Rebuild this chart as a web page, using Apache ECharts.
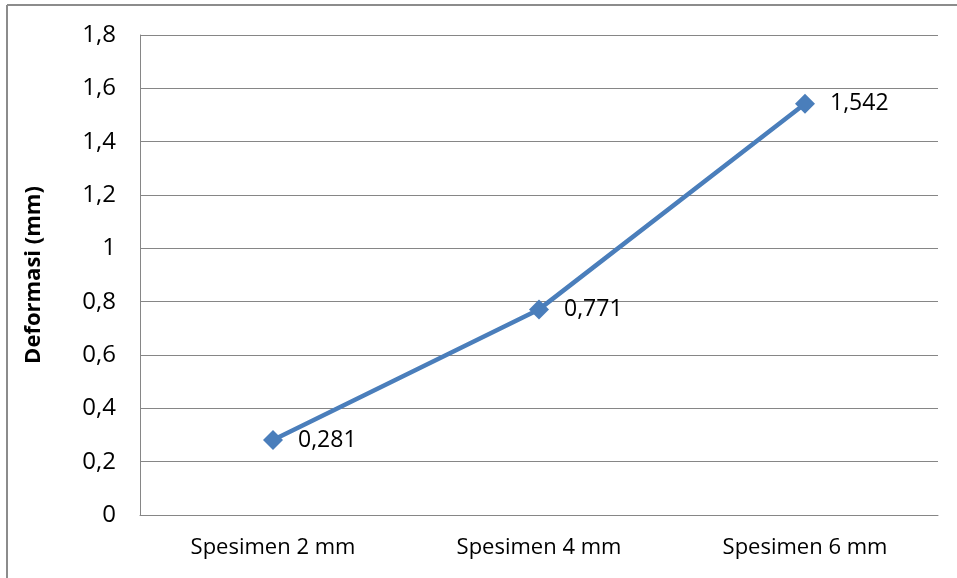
<!DOCTYPE html>
<html>
<head>
<meta charset="utf-8">
<script src="https://cdn.jsdelivr.net/npm/echarts@6/dist/echarts.min.js"></script>
<style>
  html, body { margin: 0; padding: 0; background: #fff; }
  #chart { width: 957px; height: 578px; }
</style>
</head>
<body>
<div id="chart"></div>
<script>
// Specimen thickness categories and measured deformation (mm)
const categories = ['Spesimen 2 mm', 'Spesimen 4 mm', 'Spesimen 6 mm'];
const deformasi = [0.281, 0.771, 1.542];
const yTicks = { min: 0, max: 1.8, interval: 0.2 };

const fontFamily = '"Open Sans", "Noto Sans", sans-serif';
const fmt = v => String(v).replace('.', ',');

const chart = echarts.init(document.getElementById('chart'), null, { renderer: 'canvas' });
chart.setOption({
  animation: false,
  backgroundColor: '#ffffff',
  graphic: [
    { type: 'line', shape: { x1: 7, y1: 5, x2: 957, y2: 5 }, style: { stroke: '#8c8c8c', lineWidth: 2 } },
    { type: 'line', shape: { x1: 7, y1: 5, x2: 7, y2: 578 }, style: { stroke: '#8c8c8c', lineWidth: 2 } }
  ],
  grid: { left: 140, right: 19, top: 35, bottom: 63, containLabel: false },
  xAxis: {
    type: 'category',
    data: categories,
    boundaryGap: true,
    axisLine: { show: true, lineStyle: { color: '#868686', width: 1 } },
    axisTick: { show: false },
    axisLabel: { color: '#000', fontFamily, fontSize: 22, margin: 22 }
  },
  yAxis: {
    type: 'value',
    min: yTicks.min,
    max: yTicks.max,
    interval: yTicks.interval,
    name: 'Deformasi (mm)',
    nameLocation: 'middle',
    nameGap: 95,
    nameTextStyle: { color: '#000', fontFamily, fontSize: 22, fontWeight: 'bold' },
    axisLine: { show: true, lineStyle: { color: '#868686', width: 1 } },
    axisTick: { show: false },
    splitLine: { show: true, lineStyle: { color: '#868686', width: 1 } },
    axisLabel: {
      color: '#000', fontFamily, fontSize: 24, margin: 24,
      formatter: v => fmt(Math.round(v * 10) / 10)
    }
  },
  series: [{
    type: 'line',
    data: deformasi,
    symbol: 'diamond',
    symbolSize: 20,
    lineStyle: { color: '#4a7ebb', width: 4.5 },
    itemStyle: { color: '#4a7ebb' },
    label: {
      show: true,
      position: 'right',
      distance: 15,
      color: '#000',
      fontFamily,
      fontSize: 23,
      formatter: p => fmt(p.value)
    }
  }]
});
</script>
</body>
</html>
